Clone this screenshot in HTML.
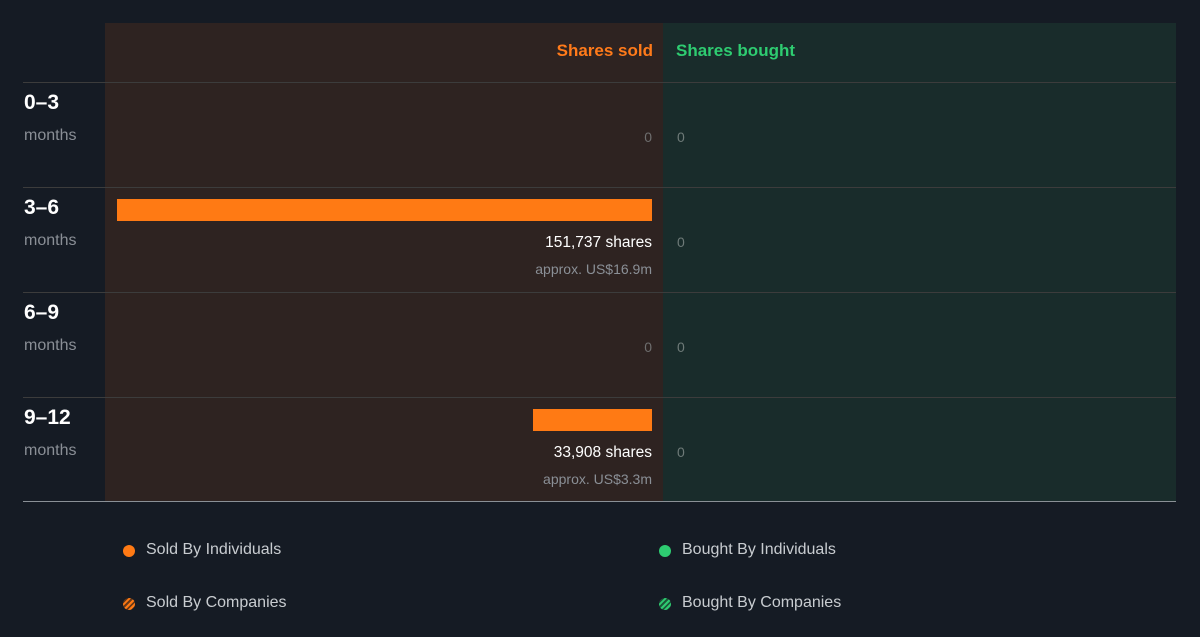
<!DOCTYPE html>
<html><head><style>
body{margin:0;width:1200px;height:637px;background:#151b24;font-family:"Liberation Sans",sans-serif;position:relative;overflow:hidden}
div{position:absolute}
.t{white-space:nowrap}
.r{text-align:right}
</style></head><body>
<div style="left:105px;top:23px;width:558px;height:478px;background:#2e2321"></div>
<div style="left:663px;top:23px;width:513px;height:478px;background:#192c2b"></div>
<div class="t r" style="right:547px;top:41px;color:#ff7a1a;font-size:17px;font-weight:bold">Shares sold</div>
<div class="t" style="left:676px;top:41px;color:#2ecc71;font-size:17px;font-weight:bold">Shares bought</div>
<div style="left:23px;top:82px;width:1153px;height:1px;background:#3c3c3c"></div>
<div style="left:23px;top:187px;width:1153px;height:1px;background:#3c3c3c"></div>
<div style="left:23px;top:292px;width:1153px;height:1px;background:#3c3c3c"></div>
<div style="left:23px;top:397px;width:1153px;height:1px;background:#3c3c3c"></div>
<div style="left:23px;top:501px;width:1153px;height:1px;background:#8a9096"></div>

<div class="t" style="left:24px;top:91px;color:#fff;font-size:21px;font-weight:bold">0–3</div>
<div class="t" style="left:24px;top:127px;color:#8a8f96;font-size:16px">months</div>
<div class="t" style="left:24px;top:196px;color:#fff;font-size:21px;font-weight:bold">3–6</div>
<div class="t" style="left:24px;top:232px;color:#8a8f96;font-size:16px">months</div>
<div class="t" style="left:24px;top:301px;color:#fff;font-size:21px;font-weight:bold">6–9</div>
<div class="t" style="left:24px;top:337px;color:#8a8f96;font-size:16px">months</div>
<div class="t" style="left:24px;top:406px;color:#fff;font-size:21px;font-weight:bold">9–12</div>
<div class="t" style="left:24px;top:442px;color:#8a8f96;font-size:16px">months</div>

<div class="t r" style="right:548px;top:129px;color:#6e6e6e;font-size:14px">0</div>
<div class="t" style="left:677px;top:129px;color:#6e7a78;font-size:14px">0</div>
<div style="left:117px;top:199px;width:535px;height:22px;background:#ff7a14"></div>
<div class="t r" style="right:548px;top:234px;color:#fff;font-size:15.5px">151,737 shares</div>
<div class="t r" style="right:548px;top:261px;color:#8a8f96;font-size:14px">approx. US$16.9m</div>
<div class="t" style="left:677px;top:234px;color:#6e7a78;font-size:14px">0</div>
<div class="t r" style="right:548px;top:339px;color:#6e6e6e;font-size:14px">0</div>
<div class="t" style="left:677px;top:339px;color:#6e7a78;font-size:14px">0</div>
<div style="left:533px;top:409px;width:119px;height:22px;background:#ff7a14"></div>
<div class="t r" style="right:548px;top:444px;color:#fff;font-size:15.5px">33,908 shares</div>
<div class="t r" style="right:548px;top:471px;color:#8a8f96;font-size:14px">approx. US$3.3m</div>
<div class="t" style="left:677px;top:444px;color:#6e7a78;font-size:14px">0</div>

<div style="left:123px;top:545px;width:12px;height:12px;border-radius:50%;background:#ff7a14"></div>
<div class="t" style="left:146px;top:541px;color:#c8ccd0;font-size:16px">Sold By Individuals</div>
<div style="left:123px;top:598px;width:12px;height:12px;border-radius:50%;background:repeating-linear-gradient(135deg,#ff7a14 0 2px,#6a3a18 2px 4px)"></div>
<div class="t" style="left:146px;top:594px;color:#c8ccd0;font-size:16px">Sold By Companies</div>
<div style="left:659px;top:545px;width:12px;height:12px;border-radius:50%;background:#2ecc71"></div>
<div class="t" style="left:682px;top:541px;color:#c8ccd0;font-size:16px">Bought By Individuals</div>
<div style="left:659px;top:598px;width:12px;height:12px;border-radius:50%;background:repeating-linear-gradient(135deg,#2ecc71 0 2px,#1c5a3a 2px 4px)"></div>
<div class="t" style="left:682px;top:594px;color:#c8ccd0;font-size:16px">Bought By Companies</div>
</body></html>
